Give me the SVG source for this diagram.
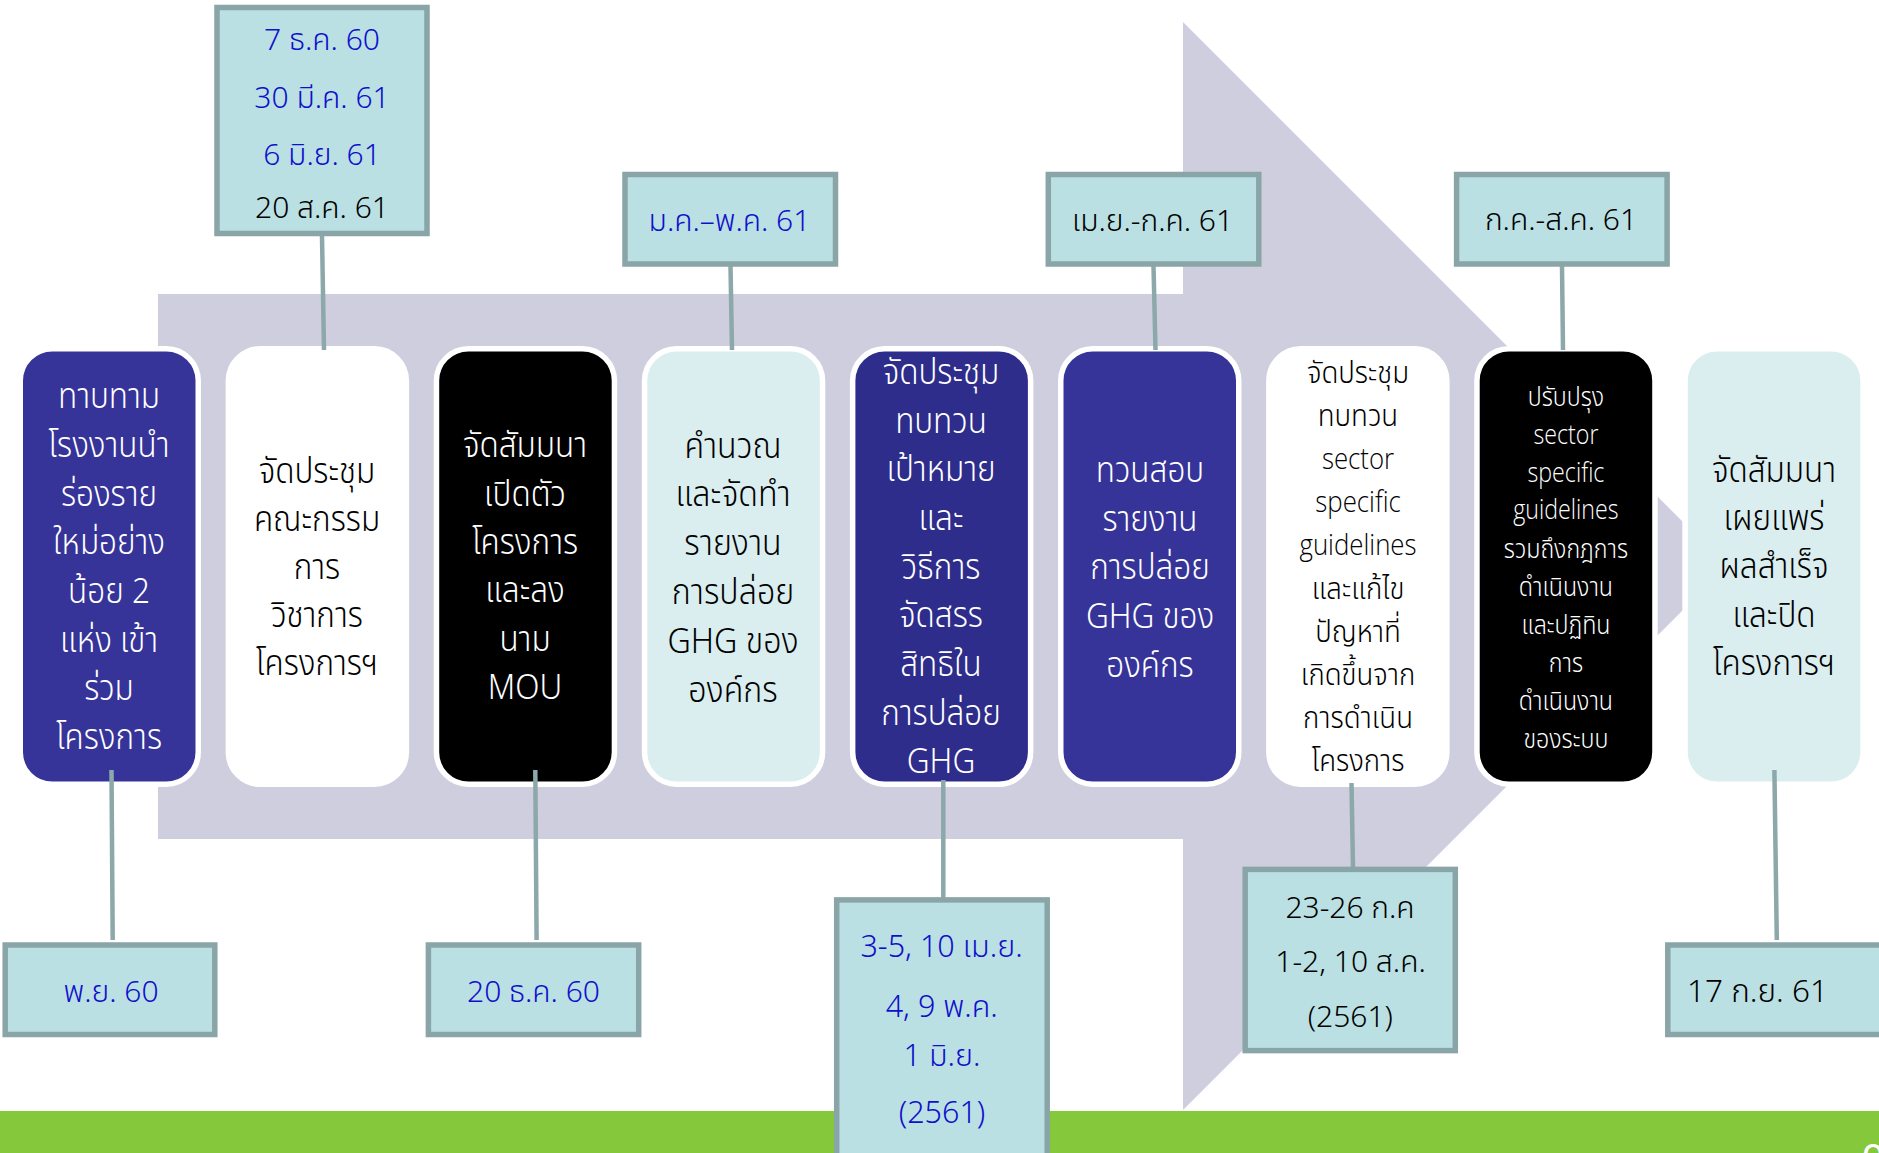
<svg xmlns="http://www.w3.org/2000/svg" width="1879" height="1153" viewBox="0 0 1879 1153">
<style>
.node{stroke:#ffffff;stroke-width:5.5}
.box{fill:#BAE0E3;stroke:#8AA5A7;stroke-width:5.5}
.conn{stroke:#8CA8AA;stroke-width:4.5;fill:none}
.nt{font-family:"Noto Sans Thai","Noto Sans Thai UI","Loma","Garuda","Noto Sans","DejaVu Sans",sans-serif;font-size:35px;font-weight:300;text-anchor:middle}
.en{font-family:"Open Sans","Noto Sans","Noto Sans Thai",sans-serif;font-weight:300}
.w{fill:#ffffff}
.k{fill:#000000}
.dt{font-family:"Noto Sans Thai","Loma","Garuda","Noto Sans","DejaVu Sans",sans-serif;font-size:30px;font-weight:350;text-anchor:middle}
.ds{font-family:"Noto Sans","Noto Sans Thai","Liberation Sans",sans-serif;font-size:30.5px;font-weight:350;text-anchor:middle}
.blue{fill:#1010CC}
</style>
<rect x="0" y="0" width="1879" height="1153" fill="#ffffff"/>
<rect x="0" y="1111" width="1879" height="42" fill="#86C83B"/>
<text x="1862" y="1172" font-family="Liberation Sans, sans-serif" font-size="40" fill="#ffffff">0</text>
<polygon id="arrow" points="158,294 1183,294 1183,22 1727,566 1183,1110 1183,839 158,839" fill="#CECEDE"/>

<g id="n1"><rect class="node" x="20.25" y="348.75" width="178" height="435.5" rx="32" fill="#363499"/>
<g class="nt w" transform="matrix(0.9,0,0,1,10.9,0)"><text x="109" y="408">ทาบทาม</text><text x="109" y="457">โรงงานนำ</text><text x="109" y="506">ร่องราย</text><text x="109" y="554">ใหม่อย่าง</text><text x="109" y="603">น้อย 2</text><text x="109" y="652">แห่ง เข้า</text><text x="109" y="700">ร่วม</text><text x="109" y="749">โครงการ</text></g></g>

<g id="n2"><rect class="node" x="228.35" y="348.75" width="178" height="435.5" rx="32" fill="#ffffff"/>
<g class="nt k" transform="matrix(0.9,0,0,1,31.7,0)"><text x="317" y="483">จัดประชุม</text><text x="317" y="531">คณะกรรม</text><text x="317" y="579">การ</text><text x="317" y="627">วิชาการ</text><text x="317" y="675">โครงการฯ</text></g></g>

<g id="n3"><rect class="node" x="436.45" y="348.75" width="178" height="435.5" rx="32" fill="#000000"/>
<g class="nt w" transform="matrix(0.9,0,0,1,52.5,0)"><text x="525" y="457">จัดสัมมนา</text><text x="525" y="506">เปิดตัว</text><text x="525" y="554">โครงการ</text><text x="525" y="602">และลง</text><text x="525" y="651">นาม</text><text x="525" y="699">MOU</text></g></g>

<g id="n4"><rect class="node" x="644.55" y="348.75" width="178" height="435.5" rx="32" fill="#DAEDEF"/>
<g class="nt k" transform="matrix(0.92,0,0,1,58.64,0)"><text x="733" y="458">คำนวณ</text><text x="733" y="506">และจัดทำ</text><text x="733" y="555">รายงาน</text><text x="733" y="604">การปล่อย</text><text x="733" y="653">GHG ของ</text><text x="733" y="702">องค์กร</text></g></g>

<g id="n5"><rect class="node" x="852.65" y="348.75" width="178" height="435.5" rx="32" fill="#2E2D8B"/>
<g class="nt w" transform="matrix(0.9,0,0,1,94.1,0)"><text x="941" y="384">จัดประชุม</text><text x="941" y="433">ทบทวน</text><text x="941" y="481">เป้าหมาย</text><text x="941" y="530">และ</text><text x="941" y="579">วิธีการ</text><text x="941" y="627">จัดสรร</text><text x="941" y="676">สิทธิใน</text><text x="941" y="725">การปล่อย</text><text x="941" y="773">GHG</text></g></g>

<g id="n6"><rect class="node" x="1060.75" y="348.75" width="178" height="435.5" rx="32" fill="#363499"/>
<g class="nt w" transform="matrix(0.9,0,0,1,115,0)"><text x="1150" y="482">ทวนสอบ</text><text x="1150" y="531">รายงาน</text><text x="1150" y="579">การปล่อย</text><text x="1150" y="628">GHG ของ</text><text x="1150" y="677">องค์กร</text></g></g>

<g id="n7"><rect class="node" x="1268.85" y="348.75" width="178" height="435.5" rx="32" fill="#ffffff"/>
<g class="nt k" style="font-size:31px" transform="matrix(0.89,0,0,1,149.4,0)"><text x="1358" y="383">จัดประชุม</text><text x="1358" y="426">ทบทวน</text><text class="en" x="1358" y="469" style="font-size:29px">sector</text><text class="en" x="1358" y="512" style="font-size:29px">specific</text><text class="en" x="1358" y="555" style="font-size:29px">guidelines</text><text x="1358" y="599">และแก้ไข</text><text x="1358" y="642">ปัญหาที่</text><text x="1358" y="685">เกิดขึ้นจาก</text><text x="1358" y="728">การดำเนิน</text><text x="1358" y="771">โครงการ</text></g></g>

<g id="n8"><rect class="node" x="1476.95" y="348.75" width="178" height="435.5" rx="32" fill="#000000"/>
<g class="nt w" style="font-size:27px" transform="matrix(0.86,0,0,1,219.2,0)"><text x="1566" y="406">ปรับปรุง</text><text class="en" x="1566" y="444" style="font-size:27px">sector</text><text class="en" x="1566" y="482" style="font-size:27px">specific</text><text class="en" x="1566" y="519" style="font-size:27px">guidelines</text><text x="1566" y="558">รวมถึงกฎการ</text><text x="1566" y="596">ดำเนินงาน</text><text x="1566" y="634">และปฏิทิน</text><text x="1566" y="672">การ</text><text x="1566" y="710">ดำเนินงาน</text><text x="1566" y="748">ของระบบ</text></g></g>

<g id="n9"><rect class="node" x="1685.05" y="348.75" width="178" height="435.5" rx="32" fill="#DAEDEF"/>
<g class="nt k" transform="matrix(0.9,0,0,1,177.4,0)"><text x="1774" y="482">จัดสัมมนา</text><text x="1774" y="530">เผยแพร่</text><text x="1774" y="578">ผลสำเร็จ</text><text x="1774" y="627">และปิด</text><text x="1774" y="675">โครงการฯ</text></g></g>

<g id="connectors">
<line class="conn" x1="322" y1="236" x2="324" y2="350"/>
<line class="conn" x1="730.5" y1="266" x2="732" y2="350"/>
<line class="conn" x1="1153.5" y1="266" x2="1155.5" y2="350"/>
<line class="conn" x1="1562" y1="266" x2="1563" y2="350"/>
<line class="conn" x1="111.5" y1="770" x2="112.7" y2="940"/>
<line class="conn" x1="535.3" y1="770" x2="536.6" y2="940"/>
<line class="conn" x1="943.3" y1="780" x2="943.3" y2="898"/>
<line class="conn" x1="1351.5" y1="783" x2="1353" y2="868"/>
<line class="conn" x1="1774.4" y1="770" x2="1776.8" y2="940"/>
</g>

<g id="d1"><rect class="box" x="217" y="7.5" width="210" height="226"/>
<g class="dt"><text class="blue" x="322" y="50">7 ธ.ค. 60</text><text class="blue" x="322" y="108">30 มี.ค. 61</text><text class="blue" x="322" y="165">6 มิ.ย. 61</text><text x="322" y="218">20 ส.ค. 61</text></g></g>
<g id="d2"><rect class="box" x="625" y="174.5" width="210.5" height="89.5"/>
<text class="dt blue" x="729.5" y="230.5">ม.ค.–พ.ค. 61</text></g>
<g id="d3"><rect class="box" x="1048.3" y="174.5" width="210.5" height="89.5"/>
<text class="dt" x="1152.5" y="230.5">เม.ย.-ก.ค. 61</text></g>
<g id="d4"><rect class="box" x="1456.6" y="174.5" width="210.5" height="89.5"/>
<text class="dt" x="1561" y="230">ก.ค.-ส.ค. 61</text></g>
<g id="d5"><rect class="box" x="5.2" y="945" width="209.6" height="89.5"/>
<text class="dt blue" x="111" y="1001.5">พ.ย. 60</text></g>
<g id="d6"><rect class="box" x="428.4" y="945" width="210.3" height="89.5"/>
<text class="dt blue" x="533.5" y="1001.5">20 ธ.ค. 60</text></g>
<g id="d7"><rect class="box" x="836.7" y="899.9" width="210.5" height="280"/>
<g class="ds blue"><text x="941.5" y="957">3-5, 10 เม.ย.</text><text x="941.7" y="1016.5">4, 9 พ.ค.</text><text x="942" y="1066">1 มิ.ย.</text><text x="942" y="1123">(2561)</text></g></g>
<g id="d8"><rect class="box" x="1245.2" y="869.4" width="210.1" height="181.2"/>
<g class="dt"><text x="1350" y="918">23-26 ก.ค</text><text x="1350.5" y="971.5">1-2, 10 ส.ค.</text><text x="1350.3" y="1026.5">(2561)</text></g></g>
<g id="d9"><rect class="box" x="1667.8" y="945" width="230" height="89.5"/>
<text class="ds" x="1757.5" y="1001.5" style="font-size:31.5px">17 ก.ย. 61</text></g>
</svg>
